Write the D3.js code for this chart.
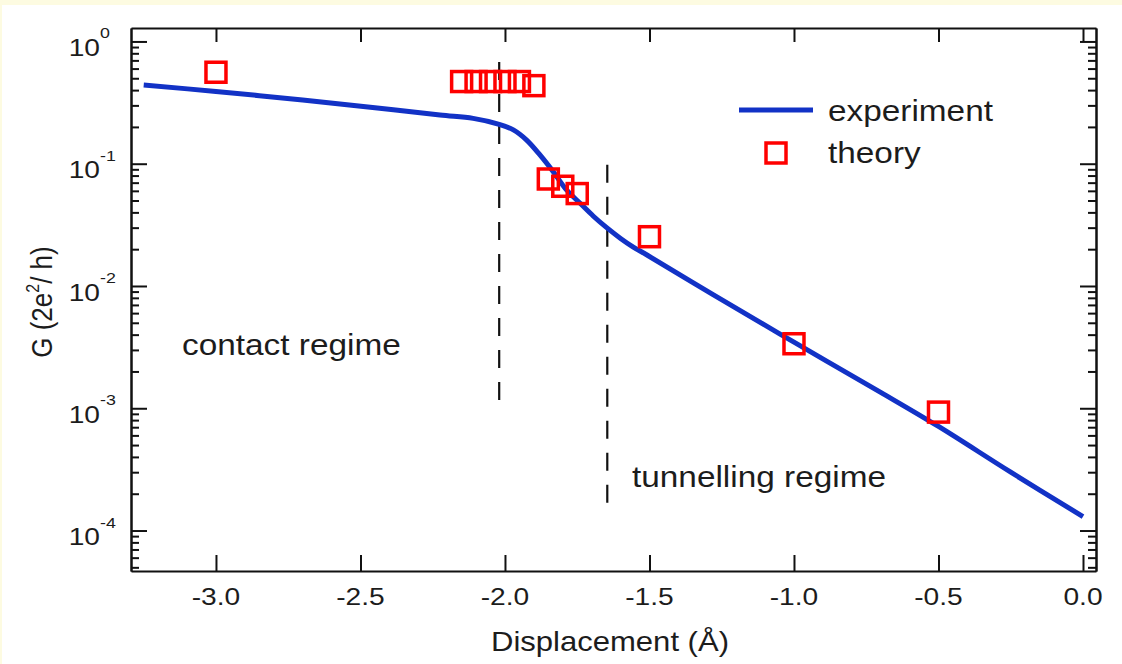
<!DOCTYPE html>
<html>
<script src="https://d3js.org/d3.v7.min.js"></script>
<style>
    body { margin: 0; background: #fdfbe1; }
    svg { display: block; }
    text { font-family: "Liberation Sans", Arial, sans-serif; fill: #1c1c1c; }
</style>

<body>
    <div id="myPlot"></div>

    <script>
        // experiment curve
        const expX = [-3.25, -3.0, -2.7, -2.45, -2.225, -2.11, -2.02, -1.971, -1.925, -1.879, -1.833, -1.787, -1.74, -1.694, -1.648, -1.6, -1.556, -1.51, -1.28, -1.0, -0.7, -0.5, -0.25, 0.0]
        const expG = [0.44, 0.39, 0.332, 0.287, 0.25, 0.235, 0.21, 0.189, 0.156, 0.118, 0.086, 0.061, 0.0475, 0.0372, 0.030, 0.0245, 0.0208, 0.018, 0.0085, 0.00347, 0.00135, 0.00071, 0.0003, 0.00013]

        // theory squares
        const thX = [-3.0, -2.15, -2.10, -2.05, -2.0, -1.95, -1.90, -1.85, -1.80, -1.75, -1.5, -1.0, -0.5]
        const thG = [0.56, 0.47, 0.47, 0.47, 0.47, 0.47, 0.435, 0.075, 0.0654, 0.057, 0.0253, 0.00337, 0.00093]

        // dashed regime borders: [x, G top, G bottom]
        const borders = [[-2.02, 0.68, 0.0011], [-1.646, 0.098, 0.000168]]

        const xTicks = [-3.0, -2.5, -2.0, -1.5, -1.0, -0.5, 0.0]
        const yExps = [0, -1, -2, -3, -4]

        const width = 1122, height = 664
        const stretch = 1.15

        const svg = d3.select("#myPlot")
            .append("svg")
            .attr("width", width)
            .attr("height", height)

        svg.append("rect")
            .attr("x", 2).attr("y", 5)
            .attr("width", width - 2).attr("height", height - 5)
            .attr("fill", "white")

        const x = d3.scaleLinear()
            .domain([-3.294, 0.045])
            .range([131, 1096])

        const y = d3.scaleLog()
            .domain([Math.pow(10, -4.331), Math.pow(10, 0.11)])
            .range([571, 28])

        const majors = yExps.map(e => Math.pow(10, e))
        const minors = y.ticks().filter(v => !majors.some(m => Math.abs(m - v) / m < 1e-6))

        // frame + ticks
        const axisStyle = g => {
            g.selectAll(".domain").attr("stroke", "#111").attr("stroke-width", 2)
            g.selectAll(".tick line").attr("stroke", "#111").attr("stroke-width", 2)
            g.selectAll(".tick text").remove()
        }

        svg.append("g")
            .attr("transform", `translate(0,571)`)
            .call(d3.axisBottom(x).tickValues(xTicks).tickSizeInner(-16).tickSizeOuter(0))
            .call(axisStyle)
        svg.append("g")
            .attr("transform", `translate(0,28)`)
            .call(d3.axisTop(x).tickValues(xTicks).tickSizeInner(-14).tickSizeOuter(0))
            .call(axisStyle)

        svg.append("g")
            .attr("transform", `translate(131,0)`)
            .call(d3.axisLeft(y).tickValues(majors).tickSizeInner(-16).tickSizeOuter(0))
            .call(axisStyle)
        svg.append("g")
            .attr("transform", `translate(131,0)`)
            .call(d3.axisLeft(y).tickValues(minors).tickSizeInner(-8).tickSizeOuter(0))
            .call(axisStyle)
        svg.append("g")
            .attr("transform", `translate(1096,0)`)
            .call(d3.axisRight(y).tickValues(majors).tickSizeInner(-16).tickSizeOuter(0))
            .call(axisStyle)
        svg.append("g")
            .attr("transform", `translate(1096,0)`)
            .call(d3.axisRight(y).tickValues(minors).tickSizeInner(-8).tickSizeOuter(0))
            .call(axisStyle)

        // x tick labels
        svg.append("g").selectAll("text")
            .data(xTicks)
            .join("text")
            .attr("transform", d => `translate(${x(d)},605) scale(${stretch},1)`)
            .attr("text-anchor", "middle")
            .attr("font-size", 24.5)
            .text(d => d.toFixed(1))

        // y tick labels 10^n
        const yl = svg.append("g").selectAll("g")
            .data(yExps)
            .join("g")
            .attr("transform", d => `translate(100,${y(Math.pow(10, d))}) scale(${stretch},1)`)
        yl.append("text")
            .attr("y", 14.5)
            .attr("text-anchor", "end")
            .attr("font-size", 24.5)
            .text("10")
        yl.append("text")
            .attr("y", -3)
            .attr("x", 0)
            .attr("font-size", 15.5)
            .text(d => d === 0 ? "0" : String(d))

        // axis titles
        svg.append("text")
            .attr("transform", `translate(610,651) scale(${stretch},1)`)
            .attr("text-anchor", "middle")
            .attr("font-size", 27)
            .text("Displacement (Å)")

        const yt = svg.append("text")
            .attr("transform", `translate(52,302) scale(${stretch},1) rotate(-90)`)
            .attr("text-anchor", "middle")
            .attr("font-size", 26)
        yt.append("tspan").text("G (2e")
        yt.append("tspan").attr("font-size", 16).attr("dy", -11).text("2")
        yt.append("tspan").attr("dy", 11).text("/ h)")

        // regime borders
        svg.append("g").selectAll("line")
            .data(borders)
            .join("line")
            .attr("x1", d => x(d[0])).attr("x2", d => x(d[0]))
            .attr("y1", d => y(d[1])).attr("y2", d => y(d[2]))
            .attr("stroke", "#111")
            .attr("stroke-width", 2.2)
            .attr("stroke-dasharray", "18,14")

        // experiment
        const line = d3.line()
            .x(d => x(d[0]))
            .y(d => y(d[1]))
            .curve(d3.curveCatmullRom.alpha(0.5))

        svg.append("path")
            .datum(d3.zip(expX, expG))
            .attr("fill", "none")
            .attr("stroke", "#1232c6")
            .attr("stroke-width", 5)
            .attr("stroke-linejoin", "round")
            .attr("d", line)

        // theory
        svg.append("g").selectAll("rect")
            .data(d3.zip(thX, thG))
            .join("rect")
            .attr("x", d => x(d[0]) - 10)
            .attr("y", d => y(d[1]) - 10)
            .attr("width", 20)
            .attr("height", 20)
            .attr("fill", "none")
            .attr("stroke", "#ff0000")
            .attr("stroke-width", 3.5)

        // legend
        const lg = svg.append("g")
        lg.append("line")
            .attr("x1", 739).attr("x2", 813)
            .attr("y1", 110).attr("y2", 110)
            .attr("stroke", "#1232c6")
            .attr("stroke-width", 5)
        lg.append("rect")
            .attr("x", 766).attr("y", 143)
            .attr("width", 20).attr("height", 20)
            .attr("fill", "none")
            .attr("stroke", "#ff0000")
            .attr("stroke-width", 3.5)
        lg.append("text")
            .attr("transform", `translate(828,121) scale(${stretch},1)`)
            .attr("font-size", 29)
            .text("experiment")
        lg.append("text")
            .attr("transform", `translate(828,163) scale(${stretch},1)`)
            .attr("font-size", 29)
            .text("theory")

        // regime labels
        svg.append("text")
            .attr("transform", `translate(182,355) scale(${stretch},1)`)
            .attr("font-size", 29)
            .text("contact regime")
        svg.append("text")
            .attr("transform", `translate(632,487) scale(${stretch},1)`)
            .attr("font-size", 29)
            .text("tunnelling regime")
    </script>

</body>

</html>
